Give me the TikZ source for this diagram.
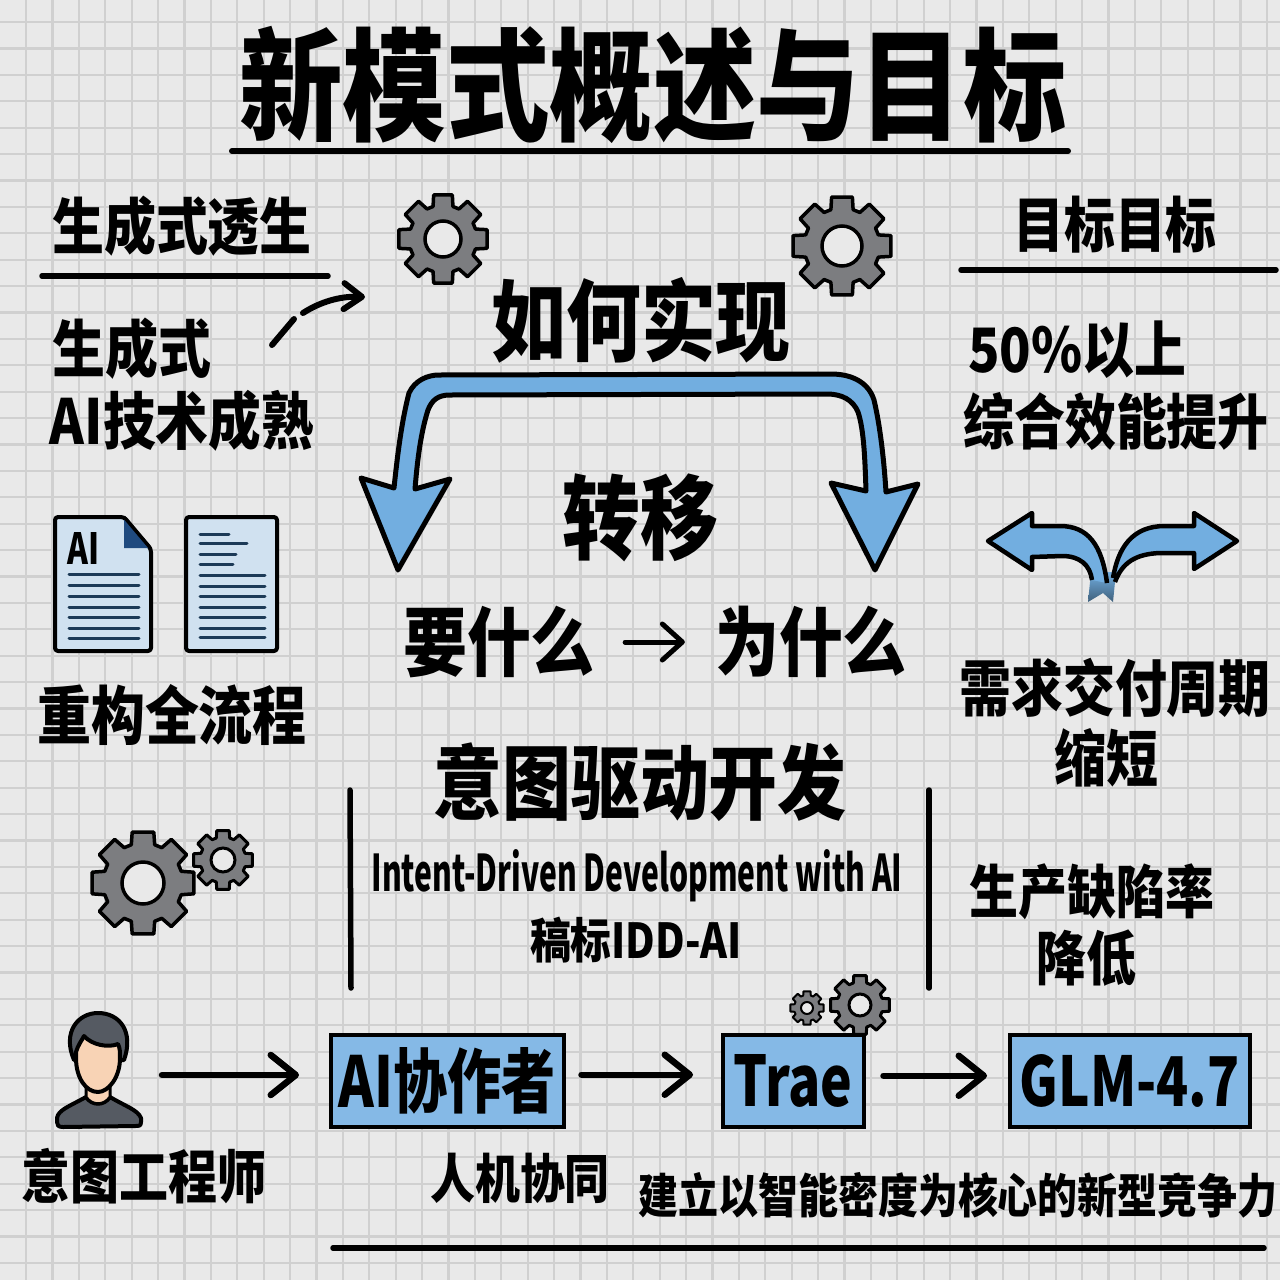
\documentclass[tikz,border=0pt]{standalone}
\usepackage{fontspec}
\usepackage{graphicx}
\setmainfont{Noto Sans CJK SC}
\newfontfamily\tallf[FakeStretch=0.847]{Noto Sans CJK SC Black}
\usetikzlibrary{arrows.meta}
\definecolor{bgc}{HTML}{E9E9E9}
\definecolor{gridc}{HTML}{D0D0D0}
\definecolor{blueF}{HTML}{85B9E6}
\definecolor{arrowF}{HTML}{72AEE0}
\definecolor{gearF}{HTML}{7C7D80}
\definecolor{docF}{HTML}{D0E1F0}
\definecolor{docL}{HTML}{1C3A57}
\definecolor{foldF}{HTML}{1F4A7F}
\definecolor{skinF}{HTML}{F8D3B5}
\definecolor{hairF}{HTML}{555A62}
\newcommand{\fs}[1]{\fontsize{\fpeval{#1*1.18}}{\fpeval{#1*1.18}}\selectfont\tallf}
\newcommand{\fitw}[2]{\resizebox{#1pt}{!}{#2}}
\newcommand{\fitwh}[3]{\resizebox{#1pt}{#2pt}{#3}}
\newcommand{\geartool}[6]{% cx cy R r hole lw
  \draw[fill=gearF,line width=#6pt,line join=round,shift={(#1,#2)}]
    (-12:#3) \foreach \i in {0,45,...,315}{
      -- ({\i-12}:#3) -- ({\i+12}:#3) -- ({\i+17}:#4) -- ({\i+28}:#4) } -- cycle;
  \draw[fill=bgc,line width=#6pt,shift={(#1,#2)}] (0,0) circle (#5);
}
\tikzset{
  x=1pt,y=-1pt,
  lab/.style={inner sep=0pt,font=\fs{#1}},
  rule/.style={line width=5.5pt,line cap=round},
  conn/.style={line width=6.5pt,line cap=round,-{Straight Barb[round,length=25pt,width=40pt]}},
  tool/.style={draw=black,line width=3.5pt,fill=blueF,inner sep=0pt,anchor=north west},
  doc/.style={draw=black,line width=4pt,line join=round,fill=docF,rounded corners=3pt},
  docline/.style={draw=docL,line width=3pt,line cap=round},
  bigarrow/.style={draw=black,line width=5pt,line join=round,fill=arrowF},
}
\begin{document}
\begin{tikzpicture}
\useasboundingbox (0,0) rectangle (1280,1280);
\fill[bgc] (0,0) rectangle (1280,1280);
\foreach \k in {0,...,48}{
  \draw[gridc,line width=2.2pt] ({26+26.4*\k},0) -- ({26+26.4*\k},1280);
  \draw[gridc,line width=2.2pt] (0,{22+26.4*\k}) -- (1280,{22+26.4*\k});
}
% title
\node[lab=103.5] (title) at (653,85) {新模式概述与目标};
\draw[rule,line width=6pt] (232,151) -- (1068,151);
% left column
\node[lab=52] (h1) at (182,226) {生成式透生};
\draw[rule] (42,276) -- (328,276);
\node[lab=53] (l1) at (132,349) {生成式};
\node[lab=52] (l2) at (182,421) {\fitw{264}{AI技术成熟}};
% dashed curved arrow
\coordinate (d1) at (272,345);
\coordinate (d2) at (294,319);
\coordinate (d3) at (303,313);
\coordinate (d4) at (365,297);
\draw[line width=6pt,line cap=round] (d1) -- (d2);
\draw[line width=6pt,line cap=round,-{Straight Barb[round,length=18pt,width=26pt]}] (d3) .. controls (320,302) and (340,296) .. (d4);
% gears
\geartool{443}{239}{45}{34}{18}{3.5}
\geartool{842}{246}{50}{38}{20}{3.5}
\geartool{143}{883}{52}{40}{21}{3.5}
\geartool{223}{860}{30}{23}{12}{3}
\geartool{807}{1008}{17}{13}{6}{2}
\geartool{860}{1005}{30}{23}{11}{3}
% centre
\node[lab=75] (how) at (641,320) {如何实现};
\draw[bigarrow] (398,570) -- (361,478) -- (394,488)
  .. controls (398,450) and (402,420) .. (409,393)
  .. controls (415,380) and (428,375) .. (439,375) -- (831,374)
  .. controls (850,374) and (868,381) .. (874,400)
  .. controls (880,425) and (884,460) .. (886,492)
  -- (918,484) -- (875,570) -- (831,483) -- (866,491)
  .. controls (865,460) and (864,430) .. (858,412)
  .. controls (853,400) and (842,394) .. (827,394) -- (450,395)
  .. controls (438,395) and (432,400) .. (428,410)
  .. controls (420,435) and (417,465) .. (415,489)
  -- (450,479) -- cycle;
\node[lab=78] (shift) at (640,518) {转移};
\node[lab=64] (want) at (499,642) {要什么};
\node[lab=64] (why) at (811,642) {为什么};
\draw[line width=5pt,line cap=round,shorten <=30pt,shorten >=30pt,-{Straight Barb[round,length=20pt,width=36pt]}] (want) -- (why);
\node[lab=69] (idd) at (640,782) {意图驱动开发};
\draw[rule] (350,790) -- (351,988);
\draw[rule] (929,790) -- (929,988);
\node[inner sep=0pt,font=\fontsize{40}{40}\selectfont\bfseries] (en) at (637,876) {\fitwh{531}{42}{Intent-Driven Development with AI}};
\node[lab=46] (tag) at (636,940) {\fitw{212}{稿标IDD-AI}};
% right column
\node[lab=51] (h2) at (1115,225) {目标目标};
\draw[rule] (961,270) -- (1276,270);
\node[lab=55] (r1) at (1077,350) {\fitw{218}{50\%以上}};
\node[lab=51] (r2) at (1116,421) {综合效能提升};
% fork arrow
\shade[top color=arrowF,bottom color=arrowF!55!black] (1091,572) -- (1088,602) -- (1103,593) -- (1113,602) -- (1116,572) -- cycle;
\draw[bigarrow,line width=4.5pt] (1107,583) .. controls (1102,545) and (1088,526) .. (1060,526) -- (1032,526) -- (1032,513) -- (988,541) -- (1032,570) -- (1032,557) -- (1062,556)
  .. controls (1080,556) and (1090,565) .. (1092,580);
\draw[bigarrow,line width=4.5pt] (1113,578) .. controls (1118,548) and (1132,526) .. (1165,526) -- (1194,526) -- (1194,513) -- (1237,541) -- (1194,569) -- (1194,553) -- (1160,553)
  .. controls (1135,554) and (1122,563) .. (1115,582);
\node[lab=52] (r3) at (1115,688) {需求交付周期};
\node[lab=52] (r4) at (1106,758) {缩短};
\node[lab=49] (r5) at (1092,892) {生产缺陷率};
\node[lab=50] (r6) at (1086,958) {降低};
% documents
\draw[doc] (55,517) -- (124,517) -- (151,549) -- (151,651) -- (55,651) -- cycle;
\fill[foldF] (124,518) -- (150,548) -- (124,548) -- cycle;
\draw[black,line width=3pt] (124,517) -- (151,549);
\node[inner sep=0pt,font=\fs{38}] (ailogo) at (84,548) {\fitwh{32}{32}{AI}};
\foreach \y in {574,585,596,607,617,628,638}{\draw[docline] (69,\y) -- (139,\y);}
\draw[doc] (186,517) rectangle (277,651);
\foreach \y/\e in {534/229,543/247,554/236,564/233,575/265,586/265,596/265,607/265,617/265,628/265,637/265}{\draw[docline] (200,\y) -- (\e,\y);}
\node[lab=54] (rebuild) at (172,715) {重构全流程};
% person
\coordinate (person) at (142,1075);
\draw[fill=hairF,line width=4pt,line join=round] (74,1060) .. controls (62,1032) and (78,1013) .. (98,1013) .. controls (120,1013) and (134,1032) .. (124,1060) -- cycle;
\draw[fill=hairF,line width=4pt,line join=round] (57,1118) .. controls (58,1110) and (70,1106) .. (86,1097) .. controls (92,1106) and (104,1106) .. (110,1097) .. controls (125,1106) and (138,1110) .. (141,1118) -- (141,1122) .. controls (141,1126) and (139,1126) .. (135,1126) -- (63,1127) .. controls (58,1127) and (57,1125) .. (57,1122) -- cycle;
\draw[fill=skinF,line width=3pt] (86,1085) -- (86,1097) .. controls (92,1106) and (104,1106) .. (110,1097) -- (110,1085) -- cycle;
\draw[fill=skinF,line width=4pt,line join=round] (76,1052) .. controls (78,1045) and (82,1040) .. (84,1036) .. controls (92,1045) and (108,1048) .. (118,1044) .. controls (120,1048) and (120,1052) .. (120,1058) .. controls (120,1078) and (108,1092) .. (98,1092) .. controls (86,1092) and (76,1078) .. (76,1058) -- cycle;
\node[lab=49] (eng) at (144,1176) {意图工程师};
% tool boxes
\node[tool,minimum width=233pt,minimum height=92pt,font=\fs{54}] (ai) at (329,1033) {\fitwh{217}{60}{AI协作者}};
\node[tool,minimum width=141pt,minimum height=92pt,font=\fs{60}] (trae) at (721,1033) {\fitwh{119}{52}{Trae}};
\node[tool,minimum width=240pt,minimum height=92pt,font=\fs{60}] (glm) at (1008,1033) {\fitwh{220}{52}{GLM-4.7}};
\draw[conn,shorten <=20pt,shorten >=30pt] (person) -- (person -| ai.west);
\draw[conn,shorten <=16pt,shorten >=28pt] ([yshift=6pt]ai.east) -- ([yshift=6pt]trae.west);
\draw[conn,shorten <=18pt,shorten >=21pt] ([yshift=5pt]trae.east) -- ([yshift=5pt]glm.west);
\node[lab=45] (cowork) at (520,1178) {人机协同};
\node[lab=40] (goal) at (958,1195) {建立以智能密度为核心的新型竞争力};
\draw[rule] (333,1248) -- (1264,1248);
\end{tikzpicture}
\end{document}
